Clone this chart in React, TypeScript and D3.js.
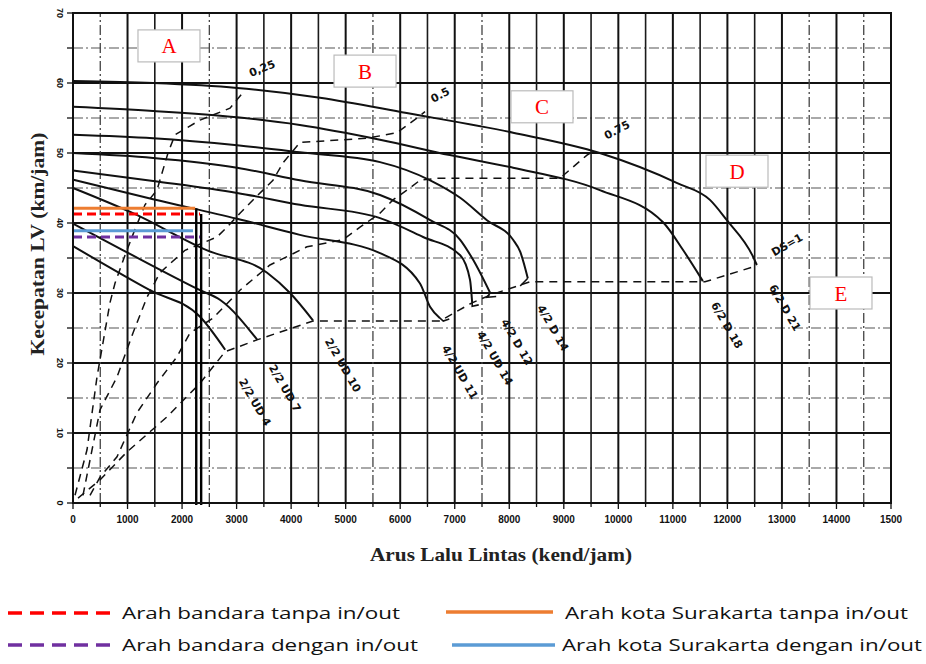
import React from "react";
import * as d3 from "d3";

// Speed–flow curves per road type: [flow (kend/jam), speed (km/jam)]
const curve6_2D21: [number, number][] = [[0,60.3],[1470,60.0],[3010,59.3],[4530,57.9],[6120,55.7],[8070,52.9],[9660,50.0],[11080,45.7],[11680,43.3],[11990,40.4],[12470,35.2],[12540,34.0]];
const curve6_2D18: [number, number][] = [[0,56.6],[1470,56.0],[3010,55.1],[4160,54.0],[5630,51.9],[6910,49.7],[8070,47.9],[9660,44.7],[10820,40.1],[11190,36.1],[11550,31.7]];
const curve4_2D14: [number, number][] = [[0,52.6],[1470,52.1],[3010,51.1],[4160,50.1],[5630,48.7],[6550,46.1],[7100,43.6],[7590,40.4],[8070,37.6],[8200,35.9],[8340,32.1]];
const curve4_2D12: [number, number][] = [[0,50.0],[1470,49.3],[3010,47.9],[4160,46.1],[5630,44.0],[6550,40.4],[7100,37.6],[7340,34.7],[7650,30.0]];
const curve4_2UD14: [number, number][] = [[0,47.5],[1470,46.0],[3010,44.3],[4160,42.6],[5630,40.7],[6420,38.0],[7100,35.4],[7280,31.9],[7320,28.6]];
const curve4_2UD11: [number, number][] = [[0,46.2],[1470,43.4],[3010,40.6],[4160,38.3],[5630,35.7],[6360,31.4],[6550,28.0],[6730,26.4]];
const curve2_2UD10: [number, number][] = [[0,45.0],[1100,41.4],[2460,36.1],[3560,32.9],[3980,30.0],[4400,26.1]];
const curve2_2UD7: [number, number][] = [[0,39.9],[920,36.1],[2330,30.4],[2700,29.0],[3380,23.3]];
const curve2_2UD4: [number, number][] = [[0,36.7],[1410,30.4],[2330,26.6],[2790,21.9]];

const roadCurves = [curve6_2D21, curve6_2D18, curve4_2D14, curve4_2D12, curve4_2UD14, curve4_2UD11, curve2_2UD10, curve2_2UD7, curve2_2UD4];

// Short hand-drawn flicks at the capacity end of some curves
const endFlicks: [number, number][][] = [
  [[8340,32.1],[8200,31.0]],
  [[7650,30.0],[7590,29.4],[7760,29.5]],
  [[7320,28.6],[7320,28.1],[7440,28.3]],
  [[6730,26.4],[6790,26.0],[6900,26.3]],
];

// Degree-of-saturation guide lines
const ds025: [number, number][] = [[37,1.1],[257,7.6],[440,18.0],[678,28.6],[770,31.4],[954,35.4],[1137,39.1],[1320,42.6],[1540,44.7],[1742,50.0],[1870,52.6],[2329,54.7],[2879,56.4],[3154,59.0]];
const ds050: [number, number][] = [[183,1.1],[495,13.3],[807,18.0],[1100,24.3],[1357,29.4],[1595,32.9],[2054,36.1],[2641,38.0],[2824,39.4],[3062,41.4],[3301,43.3],[3484,44.7],[3667,46.1],[3851,48.6],[4162,51.5],[5391,52.1],[5941,52.9],[6308,55.0],[6455,55.9]];
const ds075: [number, number][] = [[312,1.1],[495,3.7],[807,6.6],[1174,12.9],[1540,17.1],[1907,20.9],[2145,24.3],[2567,26.4],[3062,30.4],[3612,34.0],[4291,36.6],[4951,37.6],[5263,39.4],[5629,41.4],[5868,43.3],[6125,44.7],[6363,46.1],[6675,46.4],[8930,46.4],[9425,49.7],[9572,50.4]];
const ds100: [number, number][] = [[92,0.7],[495,3.3],[990,7.3],[1724,12.3],[2329,17.1],[2787,21.6],[3374,23.3],[4401,26.0],[6730,26.0],[7317,28.6],[7647,29.7],[8380,31.6],[11589,31.6],[12543,33.9]];
const dsLines = [ds025, ds050, ds075, ds100];

// Curve annotations: [text, flow, speed, angle]
const curveLabels: [string, number, number, number][] = [
  ["0,25", 3466, 62.1, -22],
  ["0.5", 6730, 58.3, -28],
  ["0.75", 9975, 53.3, -28],
  ["DS=1", 13093, 36.9, -30],
  ["2/2 UD 4", 3337, 14.4, 60],
  ["2/2 UD 7", 3887, 16.4, 60],
  ["2/2 UD 10", 4951, 19.7, 60],
  ["4/2 UD 11", 7096, 18.7, 60],
  ["4/2 UD 14", 7738, 20.7, 60],
  ["4/2 D 12", 8141, 23.0, 60],
  ["4/2 D 14", 8802, 25.0, 60],
  ["6/2 D 18", 11992, 25.4, 60],
  ["6/2 D 21", 13056, 27.9, 60],
];

// Region markers: [letter, flow, speed]
const regionBoxes: [string, number, number][] = [
  ["A", 1760, 65.3],
  ["B", 5355, 61.7],
  ["C", 8600, 56.6],
  ["D", 12176, 47.4],
  ["E", 14083, 30.0],
];

// Observed operating points per direction
const seriesNames = ["Arah bandara tanpa in/out", "Arah bandara dengan in/out", "Arah kota Surakarta tanpa in/out", "Arah kota Surakarta dengan in/out"];
const seriesSpeed = [41.3, 38.0, 42.1, 38.9];
const seriesFlow = [2330, 2330, 2240, 2200];
const seriesColor = ["#ff0000", "#7030a0", "#ed7d31", "#5b9bd5"];
const seriesDashed = [true, true, false, false];
const verticalFlows: [number, number][] = [[2260, 42.1], [2350, 41.3]];

const xTicks = [0, 1000, 2000, 3000, 4000, 5000, 6000, 7000, 8000, 9000, 10000, 11000, 12000, 13000, 14000, 15000];
const xTickLabels = ["0", "1000", "2000", "3000", "4000", "5000", "6000", "7000", "8000", "9000", "10000", "11000", "12000", "13000", "14000", "1500"];
const yTicks = [0, 10, 20, 30, 40, 50, 60, 70];

export default function App() {
  const W = 926, H = 664;
  const x = d3.scaleLinear().domain([0, 15000]).range([73, 891]);
  const y = d3.scaleLinear().domain([0, 70]).range([503, 13]);
  const smooth = d3.line<[number, number]>().x(d => x(d[0])).y(d => y(d[1])).curve(d3.curveMonotoneX);
  const straight = d3.line<[number, number]>().x(d => x(d[0])).y(d => y(d[1]));

  const dashedV = new Set([500, 2500, 5500, 7500, 13500, 14500]);
  const vGrid = d3.range(0, 15001, 500);
  const hGrid = d3.range(0, 71, 5);
  const serif = "'Liberation Serif', 'DejaVu Serif', serif";

  return (
    <svg width={W} height={H} style={{ position: "absolute", left: 0, top: 0, background: "#fff" }}>
      <rect width={W} height={H} fill="#fff" />
      {/* grid */}
      <g>
        {hGrid.map(v => (
          <line key={"h" + v} x1={x(0)} x2={x(15000)} y1={y(v)} y2={y(v)}
            stroke={v % 10 === 0 ? "#111" : "#555"} strokeWidth={v % 10 === 0 ? 2 : 1.2}
            strokeDasharray={v % 10 === 0 ? undefined : "10,3,2,3"} />
        ))}
        {vGrid.map(f => {
          const major = f % 1000 === 0;
          const dash = !major && dashedV.has(f);
          return (
            <line key={"v" + f} x1={x(f)} x2={x(f)} y1={y(0)} y2={y(70)}
              stroke={major ? "#111" : dash ? "#444" : "#1a1a1a"} strokeWidth={major ? 2 : dash ? 1.3 : 1.6}
              strokeDasharray={dash ? "10,3,2,3" : undefined} />
          );
        })}
      </g>
      {/* axis ticks */}
      <g stroke="#111" strokeWidth={1.3}>
        {hGrid.map(v => (
          <line key={"yt" + v} x1={x(0) - 6} x2={x(0)} y1={y(v)} y2={y(v)} />
        ))}
        {vGrid.map(f => (
          <line key={"xt" + f} x1={x(f)} x2={x(f)} y1={y(0)} y2={y(0) + (f % 1000 === 0 ? 6 : 4)} />
        ))}
      </g>
      <g fontFamily="'Liberation Sans', Arial, sans-serif" fontWeight="bold" fontSize={10} fill="#111">
        {xTicks.map((t, i) => (
          <text key={"xl" + t} x={x(t)} y={y(0) + 20} textAnchor="middle">{xTickLabels[i]}</text>
        ))}
        {yTicks.map(t => (
          <text key={"yl" + t} transform={`translate(${x(0) - 13},${y(t)}) rotate(90)`} textAnchor="middle" dy="0.35em" fontSize={9}>{t}</text>
        ))}
      </g>
      {/* DS guide lines */}
      <g fill="none" stroke="#111" strokeWidth={1.5} strokeDasharray="8,6">
        {dsLines.map((ln, i) => <path key={"ds" + i} d={straight(ln) || ""} />)}
      </g>
      {/* road-type curves */}
      <g fill="none" stroke="#111" strokeWidth={2}>
        {roadCurves.map((c, i) => <path key={"c" + i} d={smooth(c) || ""} />)}
        {endFlicks.map((c, i) => <path key={"f" + i} d={straight(c) || ""} strokeWidth={1.6} />)}
      </g>
      {/* curve labels */}
      <g fontFamily="'DejaVu Sans', sans-serif" fontWeight="bold" fontSize={11} fill="#111">
        {curveLabels.map(([t, f, s, a]) => (
          <text key={t} transform={`translate(${x(f)},${y(s)}) rotate(${a})`} textAnchor="middle" dy="0.35em">{t}</text>
        ))}
      </g>
      {/* region boxes */}
      <g>
        {regionBoxes.map(([t, f, s]) => (
          <g key={t} transform={`translate(${x(f)},${y(s)})`}>
            <rect x={-31} y={-16} width={62} height={32} fill="#fff" stroke="#bbb" strokeWidth={1.2} />
            <text textAnchor="middle" dy="0.36em" fontFamily={serif} fontSize={21} fill="#ff0000">{t}</text>
          </g>
        ))}
      </g>
      {/* observed points */}
      <g>
        {verticalFlows.map(([f, s], i) => (
          <line key={"vf" + i} x1={x(f)} x2={x(f)} y1={y(s)} y2={y(0) + 2} stroke="#000" strokeWidth={2.4} />
        ))}
        {seriesNames.map((n, i) => (
          <line key={"s" + i} x1={x(0)} x2={x(seriesFlow[i])} y1={y(seriesSpeed[i])} y2={y(seriesSpeed[i])}
            stroke={seriesColor[i]} strokeWidth={3} strokeDasharray={seriesDashed[i] ? "9,5" : undefined} />
        ))}
      </g>
      {/* frame */}
      <rect x={x(0)} y={y(70)} width={x(15000) - x(0)} height={y(0) - y(70)} fill="none" stroke="#111" strokeWidth={2} />
      {/* axis titles */}
      <text x={501} y={561} textAnchor="middle" fontFamily={serif} fontWeight="bold" fontSize={19} textLength={262} lengthAdjust="spacingAndGlyphs" fill="#222">Arus Lalu Lintas (kend/jam)</text>
      <text transform="translate(44,244) rotate(-90)" textAnchor="middle" fontFamily={serif} fontWeight="bold" fontSize={19} textLength={223} lengthAdjust="spacingAndGlyphs" fill="#222">Kecepatan LV (km/jam)</text>
      {/* legend */}
      <g fontFamily="'Open Sans', 'Noto Sans', sans-serif" fontSize={17} fill="#111">
        <line x1={8} x2={118} y1={613} y2={613} stroke={seriesColor[0]} strokeWidth={3.5} strokeDasharray="14,8" />
        <text x={122} y={619} textLength={278} lengthAdjust="spacingAndGlyphs">{seriesNames[0]}</text>
        <line x1={8} x2={118} y1={645} y2={645} stroke={seriesColor[1]} strokeWidth={3.5} strokeDasharray="14,8" />
        <text x={122} y={651} textLength={296} lengthAdjust="spacingAndGlyphs">{seriesNames[1]}</text>
        <line x1={446} x2={553} y1={612} y2={612} stroke={seriesColor[2]} strokeWidth={3.5} />
        <text x={565} y={619} textLength={343} lengthAdjust="spacingAndGlyphs">{seriesNames[2]}</text>
        <line x1={452} x2={555} y1={645} y2={645} stroke={seriesColor[3]} strokeWidth={3.5} />
        <text x={562} y={651} textLength={360} lengthAdjust="spacingAndGlyphs">{seriesNames[3]}</text>
      </g>
    </svg>
  );
}
